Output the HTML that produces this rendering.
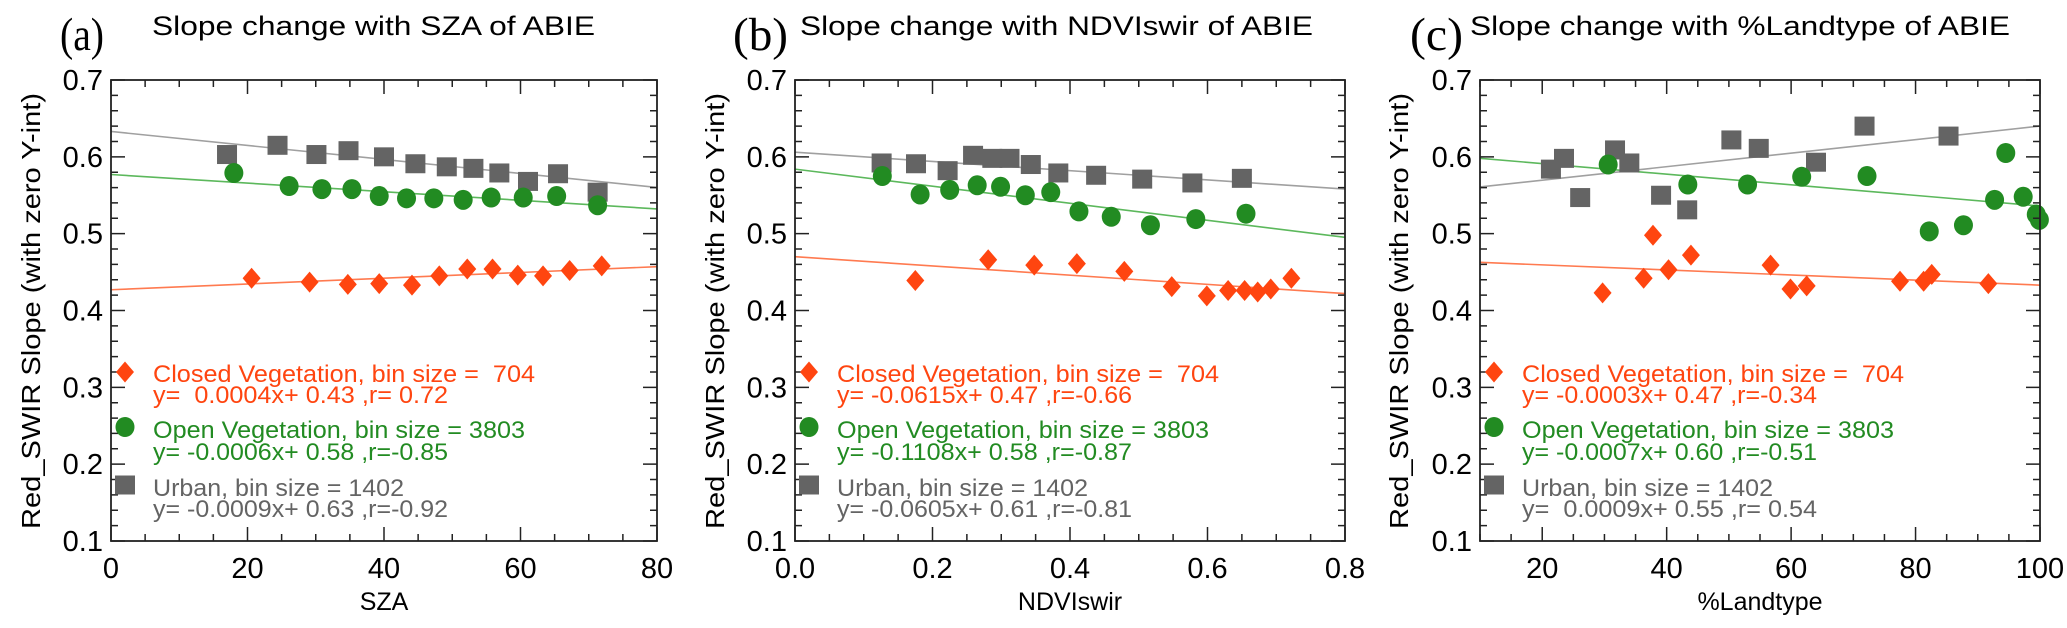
<!DOCTYPE html>
<html><head><meta charset="utf-8">
<style>
html,body{margin:0;padding:0;background:#fff;}
svg{display:block;font-family:"Liberation Sans",sans-serif;}
text{white-space:pre;}
</style></head>
<body>
<svg id="fig" width="2067" height="628" viewBox="0 0 2067 628" xmlns="http://www.w3.org/2000/svg" xml:space="preserve"></svg>
<script>
// ---------- Panel (a) data ----------
const aUrbanX = [17.0,24.4,30.1,34.8,40.0,44.6,49.2,53.1,56.9,61.1,65.5,71.3];
const aUrbanY = [0.603,0.615,0.603,0.608,0.600,0.591,0.587,0.585,0.579,0.568,0.578,0.554];
const aOpenX = [18.0,26.1,30.9,35.3,39.3,43.3,47.3,51.6,55.7,60.4,65.3,71.3];
const aOpenY = [0.579,0.562,0.558,0.558,0.549,0.546,0.546,0.544,0.547,0.547,0.549,0.537];
const aClosedX = [20.6,29.1,34.7,39.3,44.1,48.1,52.2,55.9,59.6,63.3,67.2,71.9];
const aClosedY = [0.442,0.437,0.434,0.435,0.433,0.445,0.454,0.454,0.446,0.445,0.452,0.458];
const aFitIntercept = [0.427,0.577,0.633]; // closed, open, urban
const aFitSlope = [0.000375,-0.00056,-0.00091];
const aXTicks = [0,20,40,60,80];
const aXTickLabels = ["0","20","40","60","80"];
const aLegend = ["y=  0.0004x+ 0.43 ,r= 0.72","y= -0.0006x+ 0.58 ,r=-0.85","y= -0.0009x+ 0.63 ,r=-0.92"];

// ---------- Panel (b) data ----------
const bUrbanX = [0.126,0.176,0.222,0.259,0.287,0.312,0.343,0.383,0.438,0.505,0.578,0.650];
const bUrbanY = [0.592,0.591,0.582,0.602,0.598,0.598,0.590,0.579,0.576,0.571,0.566,0.572];
const bOpenX = [0.127,0.182,0.225,0.265,0.299,0.335,0.372,0.413,0.460,0.517,0.583,0.656];
const bOpenY = [0.575,0.551,0.557,0.563,0.561,0.550,0.554,0.529,0.522,0.511,0.519,0.526];
const bClosedX = [0.175,0.281,0.348,0.410,0.479,0.548,0.599,0.630,0.654,0.673,0.692,0.722];
const bClosedY = [0.439,0.466,0.459,0.461,0.451,0.431,0.419,0.426,0.426,0.424,0.428,0.442];
const bFitIntercept = [0.470,0.584,0.606];
const bFitSlope = [-0.060,-0.111,-0.060];
const bXTicks = [0,0.2,0.4,0.6,0.8];
const bXTickLabels = ["0.0","0.2","0.4","0.6","0.8"];
const bLegend = ["y= -0.0615x+ 0.47 ,r=-0.66","y= -0.1108x+ 0.58 ,r=-0.87","y= -0.0605x+ 0.61 ,r=-0.81"];

// ---------- Panel (c) data ----------
const cUrbanX = [21.4,23.5,26.1,31.7,34.0,39.1,43.3,50.4,54.8,64.0,71.8,85.3];
const cUrbanY = [0.584,0.598,0.547,0.609,0.592,0.550,0.531,0.622,0.611,0.593,0.640,0.627];
const cOpenX = [30.6,43.4,53.0,61.7,72.2,82.2,87.7,92.7,94.5,97.3,99.4,99.9];
const cOpenY = [0.590,0.564,0.564,0.574,0.575,0.503,0.511,0.544,0.605,0.548,0.525,0.518];
const cClosedX = [29.7,36.3,37.8,40.3,43.9,56.7,59.9,62.5,77.5,81.3,82.6,91.7];
const cClosedY = [0.423,0.442,0.498,0.453,0.472,0.459,0.428,0.432,0.438,0.438,0.447,0.435];
const cFitIntercept = [0.466,0.605,0.552];
const cFitSlope = [-0.00033,-0.00069,0.00088];
const cXTicks = [20,40,60,80,100];
const cXTickLabels = ["20","40","60","80","100"];
const cLegend = ["y= -0.0003x+ 0.47 ,r=-0.34","y= -0.0007x+ 0.60 ,r=-0.51","y=  0.0009x+ 0.55 ,r= 0.54"];

const yTicks = [0.1,0.2,0.3,0.4,0.5,0.6,0.7];
const yTickLabels = ["0.1","0.2","0.3","0.4","0.5","0.6","0.7"];

const NS = "http://www.w3.org/2000/svg";
const fig = document.getElementById('fig');
function mk(tag, attrs, parent){
  const e = document.createElementNS(NS, tag);
  for (const k in attrs) e.setAttribute(k, attrs[k]);
  (parent||fig).appendChild(e);
  return e;
}
const COL = {closed:"#ff4510", open:"#228b22", urban:"#646464"};
const LCOL = {closed:"#ff7a50", open:"#5cb85c", urban:"#a0a0a0"};

function panel(p){
  const g = mk('g', {});
  
  
  const L=p.L, R=p.R, T=80, B=541;
  const sx = v => L + (v - p.xmin)/(p.xmax - p.xmin)*(R-L);
  const sy = v => B - (v - 0.1)/0.6*(B-T);

  const lt = mk('text', {x:p.letterX, y:50, 'font-family':'"Liberation Serif",serif', 'font-size':47, fill:'#000', textLength:p.letterW, lengthAdjust:'spacingAndGlyphs'}, g);
  lt.textContent = '(' + p.id + ')';
  
  
  const tt = mk('text', {x:p.titleX, y:35, 'font-size':27, fill:'#000', textLength:p.titleW, lengthAdjust:'spacingAndGlyphs'}, g);
  tt.textContent = p.title;
  
  

  const keys = ['closed','open','urban'];
  const clipId = 'clip' + p.id;
  const cp = mk('clipPath', {id:clipId}, g);
  mk('rect', {x:L, y:T, width:R-L, height:B-T}, cp);
  keys.forEach((k,i) => {
    const y0 = p.icpt[i] + p.slope[i]*p.xmin;
    const y1 = p.icpt[i] + p.slope[i]*p.xmax;
    const ln = mk('line', {x1:sx(p.xmin), y1:sy(y0), x2:sx(p.xmax), y2:sy(y1), stroke:LCOL[k], 'stroke-width':1.6, 'clip-path':'url(#'+clipId+')'}, g);
    
    
  });

  function marker(k, cx, cy, parent){
    let e;
    if (k==='urban') e = mk('rect', {x:cx-10, y:cy-9.5, width:20, height:19, fill:COL[k]}, parent);
    else if (k==='open') e = mk('ellipse', {cx:cx, cy:cy, rx:9.5, ry:10, fill:COL[k]}, parent);
    else e = mk('polygon', {points:`${cx},${cy-10.5} ${cx+9},${cy} ${cx},${cy+10.5} ${cx-9},${cy}`, fill:COL[k]}, parent);
    return e;
  }
  [['urban',p.ux,p.uy],['open',p.ox,p.oy],['closed',p.cx,p.cy]].forEach(([k,xs,ys]) => {
    xs.forEach((xv,j) => {
      const m = marker(k, sx(xv), sy(ys[j]), g);
      
      
    });
  });

  const box = mk('rect', {x:L, y:T, width:R-L, height:B-T, fill:'none', stroke:'#222', 'stroke-width':1.8}, g);
  
  

  let d = '';
  for (let v = p.xmin; v <= p.xmax + 1e-9; v += p.minor){
    const X = sx(v);
    const isMajor = p.xt.some(t => Math.abs(t - v) < 1e-6);
    const len = isMajor ? 14 : 7;
    d += `M${X},${B}v${-len}M${X},${T}v${len}`;
  }
  for (let v = 0.1; v <= 0.7001; v += 0.02){
    const Y = sy(v);
    const isMajor = Math.abs(v*10 - Math.round(v*10)) < 1e-6;
    const len = isMajor ? 14 : 7;
    d += `M${L},${Y}h${len}M${R},${Y}h${-len}`;
  }
  const tk = mk('path', {d:d, stroke:'#222', 'stroke-width':1.5, fill:'none'}, g);
  
  

  p.xt.forEach((v,j) => {
    const t = mk('text', {x:sx(v), y:578, 'font-size':29, 'text-anchor':'middle', fill:'#000'}, g);
    t.textContent = p.xtl[j];
    
    
  });
  yTicks.forEach((v,j) => {
    const t = mk('text', {x:L-8, y:sy(v)+10, 'font-size':29, 'text-anchor':'end', fill:'#000'}, g);
    t.textContent = yTickLabels[j];
    
    
  });
  const xt = mk('text', {x:(L+R)/2, y:610, 'font-size':25, 'text-anchor':'middle', fill:'#000'}, g);
  xt.textContent = p.xlabel;
  
  
  const yt = mk('text', {x:0, y:0, 'font-size':26, 'text-anchor':'middle', fill:'#000', transform:`translate(${p.yTitleX},311) rotate(-90)`, textLength:436, lengthAdjust:'spacingAndGlyphs'}, g);
  yt.textContent = 'Red_SWIR Slope (with zero Y-int)';
  
  

  const names = ['Closed Vegetation, bin size =  704','Open Vegetation, bin size = 3803','Urban, bin size = 1402'];
  const nameW = [382, 372, 251];
  const mY = [372, 427, 485];
  const b1 = [382, 438, 496];
  const b2 = [403, 460, 517];
  keys.forEach((k,i) => {
    const lg = mk('g', {}, g);
    
    
    marker(k, L+14, mY[i], lg);
    const t1 = mk('text', {x:L+42, y:b1[i], 'font-size':24, fill:COL[k], textLength:nameW[i], lengthAdjust:'spacingAndGlyphs'}, lg);
    t1.textContent = names[i];
    const t2 = mk('text', {x:L+42, y:b2[i], 'font-size':24, fill:COL[k], textLength:295, lengthAdjust:'spacingAndGlyphs'}, lg);
    t2.textContent = p.legend[i];
  });
}

panel({id:'a', L:111, R:657, xmin:0, xmax:80, minor:5, xt:aXTicks, xtl:aXTickLabels,
  letterX:60, letterW:44, titleX:152, titleW:443, title:'Slope change with SZA of ABIE', xlabel:'SZA', yTitleX:40,
  ux:aUrbanX, uy:aUrbanY, ox:aOpenX, oy:aOpenY, cx:aClosedX, cy:aClosedY,
  icpt:aFitIntercept, slope:aFitSlope, legend:aLegend});
panel({id:'b', L:795, R:1345, xmin:0, xmax:0.8, minor:0.05, xt:bXTicks, xtl:bXTickLabels,
  letterX:733, letterW:55, titleX:800, titleW:513, title:'Slope change with NDVIswir of ABIE', xlabel:'NDVIswir', yTitleX:724,
  ux:bUrbanX, uy:bUrbanY, ox:bOpenX, oy:bOpenY, cx:bClosedX, cy:bClosedY,
  icpt:bFitIntercept, slope:bFitSlope, legend:bLegend});
panel({id:'c', L:1480, R:2040, xmin:10, xmax:100, minor:5, xt:cXTicks, xtl:cXTickLabels,
  letterX:1410, letterW:53, titleX:1470, titleW:540, title:'Slope change with %Landtype of ABIE', xlabel:'%Landtype', yTitleX:1408,
  ux:cUrbanX, uy:cUrbanY, ox:cOpenX, oy:cOpenY, cx:cClosedX, cy:cClosedY,
  icpt:cFitIntercept, slope:cFitSlope, legend:cLegend});
</script>
</body></html>
